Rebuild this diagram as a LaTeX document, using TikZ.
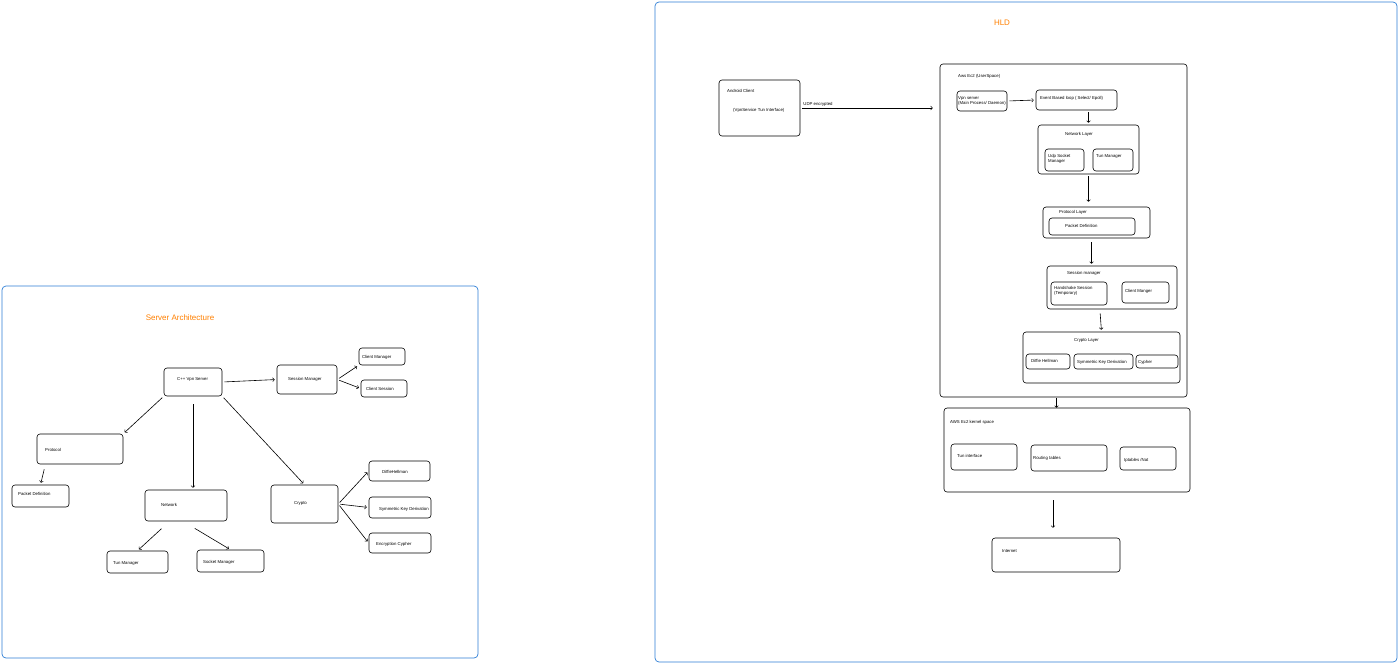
\documentclass[tikz,border=0pt]{standalone}
\usepackage{fontspec}
\setmainfont{Liberation Sans}
\definecolor{fblue}{HTML}{2F7FD6}
\begin{document}
\begin{tikzpicture}[x=1pt,y=-1pt,
  box/.style={draw,rounded corners=3pt,line width=0.6pt,inner sep=0pt},
  frame/.style={draw=fblue,rounded corners=4pt,line width=0.7pt},
  txt/.style={font=\fontsize{4.3}{5}\selectfont,inner sep=0pt,anchor=west,align=left},
  ttl/.style={font=\fontsize{8}{9}\selectfont,text=orange,inner sep=0pt},
  arr/.style={->,line width=0.6pt,shorten >=2pt,shorten <=2pt}]
\newcommand\bx[5]{\node[box,minimum width={(#4-#2)*1pt},minimum height={(#5-#3)*1pt}] (#1) at ({(#2+#4)/2},{(#3+#5)/2}) {};}
\useasboundingbox[fill=white] (0,0) rectangle (1400,665);
% left frame
\node[frame,minimum width=476pt,minimum height=372pt] (lf) at (240,472) {};
\node[ttl] (t1) at (180,318) {Server Architecture};
\bx{cpp}{164}{368}{222}{396}\node[txt] (l1) at (177,379){C++ Vpn Server};
\bx{sm}{277}{365}{337}{394}\node[txt] (l2) at (288,379){Session Manager};
\bx{cm}{359}{348}{405}{365}\node[txt] (l3) at (362,357){Client Manager};
\bx{cs}{361}{380}{407}{397}\node[txt] (l4) at (366,389){Client Session};
\bx{pr}{37}{434}{123}{464}\node[txt] (l5) at (45,450){Protocol};
\bx{pd}{12}{485}{69}{507}\node[txt] (l6) at (18,494){Packet Definition};
\bx{nw}{145}{490}{227}{521}\node[txt] (l7) at (161,505){Network};
\bx{tm}{107}{551}{168}{573}\node[txt] (l8) at (113,563){Tun Manager};
\bx{sk}{197}{550}{264}{572}\node[txt] (l9) at (203,562){Socket Manager};
\bx{cr}{271}{485}{338}{523}\node[txt] (l10) at (294,503){Crypto};
\bx{dh}{369}{461}{430}{481}\node[txt] (l11) at (382,472){DiffieHellman};
\bx{sy}{369}{497}{431}{518}\node[txt] (l12) at (379,509){Symmetric Key Derivation};
\bx{en}{369}{533}{431}{553}\node[txt] (l13) at (376,544){Encryption Cypher};
\draw[arr] (cpp.east) -- (sm.west);
\draw[arr] (sm.east) -- (cm.south west);
\draw[arr] (sm.east) -- (cs.west);
\draw[arr] (cpp.south west) -- (pr.north east);
\draw[arr,shorten <=8pt] (cpp.south) -- (nw.north -| cpp.south);
\draw[arr] (cpp.south east) -- (cr.north);
\draw[arr] (pr.south west) ++(8,3) coordinate (pa) (pa) -- (pd.north);
\draw[arr] (nw.south) ++(-23,6) coordinate (pn1) (pn1) -- (tm.north);
\draw[arr] (nw.south) ++(7,6) coordinate (pn2) (pn2) -- (sk.north);
\draw[arr] (cr.east) -- (dh.west);
\draw[arr] (cr.east) -- (sy.west);
\draw[arr] (cr.east) -- (en.west);
% right frame
\node[frame,minimum width=742pt,minimum height=660pt] (rf) at (1026,332) {};
\node[ttl] (t2) at (1002,23) {HLD};
\bx{ac}{719}{80}{800}{136}\node[txt] (a1) at (727,91){Android Client};\node[txt] (a2) at (733,110){(VpnService Tun Interface)};
\bx{ec2}{940}{64}{1187}{397}\node[txt] (e1) at (958,76){Aws Ec2 (UserSpace)};
\draw[arr,shorten >=7pt] (ac.east) -- (ec2.west |- ac.east) node[pos=0.02,above=4pt,txt] (ue){UDP encrypted};
\bx{vs}{957}{91}{1007}{111}\node[txt] (v1) at (958,101){Vpn server\\(Main Process/ Daemon)};
\bx{el}{1036}{90}{1117}{110}\node[txt] (v2) at (1040,98){Event Based loop ( Select/ Epoll)};
\bx{nl}{1038}{125}{1139}{174}\node[txt] (v3) at (1065,134){Network Layer};
\bx{us}{1045}{149}{1084}{171}\node[txt] (v4) at (1048,159){Udp Socket\\Manager};
\bx{tn}{1093}{149}{1133}{171}\node[txt] (v5) at (1096,156){Tun Manager};
\bx{pl}{1043}{207}{1150}{238}\node[txt] (v6) at (1059,212){Protocol Layer};
\bx{pk}{1049}{218}{1135}{235}\node[txt] (v7) at (1065,226){Packet Definition};
\bx{sl}{1047}{266}{1177}{309}\node[txt] (v8) at (1067,273){Session manager};
\bx{hs}{1051}{282}{1107}{305}\node[txt] (v9) at (1054,291){Handshake Session\\(Temporary)};
\bx{cg}{1122}{282}{1169}{303}\node[txt] (v10) at (1125,291){Client Manger};
\bx{cl}{1023}{332}{1180}{383}\node[txt] (v11) at (1074,340){Crypto Layer};
\bx{df}{1026}{354}{1070}{369}\node[txt] (v12) at (1031,361){Diffie Hellman};
\bx{sd}{1074}{354}{1133}{369}\node[txt] (v13) at (1077,362){Symmetric Key Derivation};
\bx{cy}{1136}{355}{1178}{368}\node[txt] (v14) at (1138,362){Cypher};
\draw[arr] (vs.east) -- (el.west);
\draw[arr] (el.south -| nl.north) -- (nl.north);
\draw[arr,shorten >=5pt] (nl.south) -- (pl.north -| nl.south);
\draw[arr] (pl.south) ++(-5,2) coordinate (pb) (pb) -- (sl.north -| pb);
\draw[arr] (sl.south) ++(-12,2) coordinate (pc) (pc) -- (cl.north);
\bx{ks}{944}{408}{1190}{492}\node[txt] (k1) at (950,422){AWS Ec2 kernel space};
\draw[arr,shorten <=0pt,shorten >=0pt] (ec2.south) ++(-7,1) coordinate (pd2) (pd2) -- (ks.north -| pd2);
\bx{ti}{951}{444}{1017}{470}\node[txt] (k2) at (957,456){Tun interface};
\bx{rt}{1031}{445}{1107}{471}\node[txt] (k3) at (1033,458){Routing tables};
\bx{ip}{1120}{447}{1176}{470}\node[txt] (k4) at (1124,460){Iptables /Nat};
\bx{in}{992}{538}{1120}{572}\node[txt] (k5) at (1002,551){Internet};
\draw[arr,shorten <=8pt,shorten >=10pt] (ks.south -| in.north) ++(-3,0) coordinate (pe) (pe) -- (in.north -| pe);
\end{tikzpicture}
\end{document}
